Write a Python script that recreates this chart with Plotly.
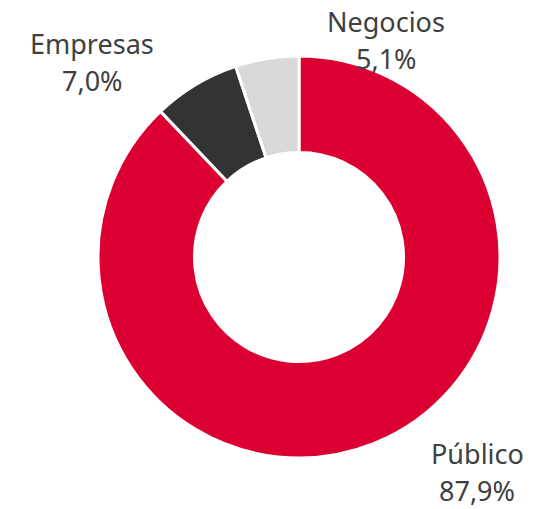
import plotly.graph_objects as go

# datos
segmentos = ['Público', 'Empresas', 'Negocios']
porcentajes = [87.9, 7.0, 5.1]
colores = ['#DC0032', '#333333', '#D9D9D9']

W, H = 557, 509
OFF = 8  # margen por defecto del body en la página

# centro de la primera línea de cada etiqueta (px en la imagen)
pos_etiquetas = {
    'Público': (477, 453),
    'Empresas': (92, 43),
    'Negocios': (386, 21),
}
SALTO = 37  # separación entre nombre y porcentaje


def px_a_paper(x, y):
    return (x - OFF) / W, 1 - (y - OFF) / H


fig = go.Figure()

fig.add_trace(go.Pie(
    labels=segmentos,
    values=porcentajes,
    hole=0.52,
    sort=False,
    direction='clockwise',
    rotation=0,
    marker=dict(colors=colores, line=dict(color='white', width=3)),
    textinfo='none',
    hoverinfo='label+percent',
    showlegend=False,
    domain=dict(x=[(98 - OFF) / W, (500 - OFF) / W],
                y=[(51 + OFF) / H, (453 + OFF) / H]),
))

fuente = dict(family='Noto Sans, sans-serif', size=27, color='#404040')
for seg, val in zip(segmentos, porcentajes):
    px, py = pos_etiquetas[seg]
    lineas = [seg, f"{val:.1f}%".replace('.', ',')]
    for i, linea in enumerate(lineas):
        x, y = px_a_paper(px, py + i * SALTO)
        fig.add_annotation(
            x=x, y=y, xref='paper', yref='paper',
            xanchor='center', yanchor='middle',
            text=linea, showarrow=False, font=fuente,
        )

fig.update_layout(
    width=W,
    height=H,
    margin=dict(l=0, r=0, t=0, b=0),
    paper_bgcolor='white',
    plot_bgcolor='white',
)

fig.write_html("out.html")
